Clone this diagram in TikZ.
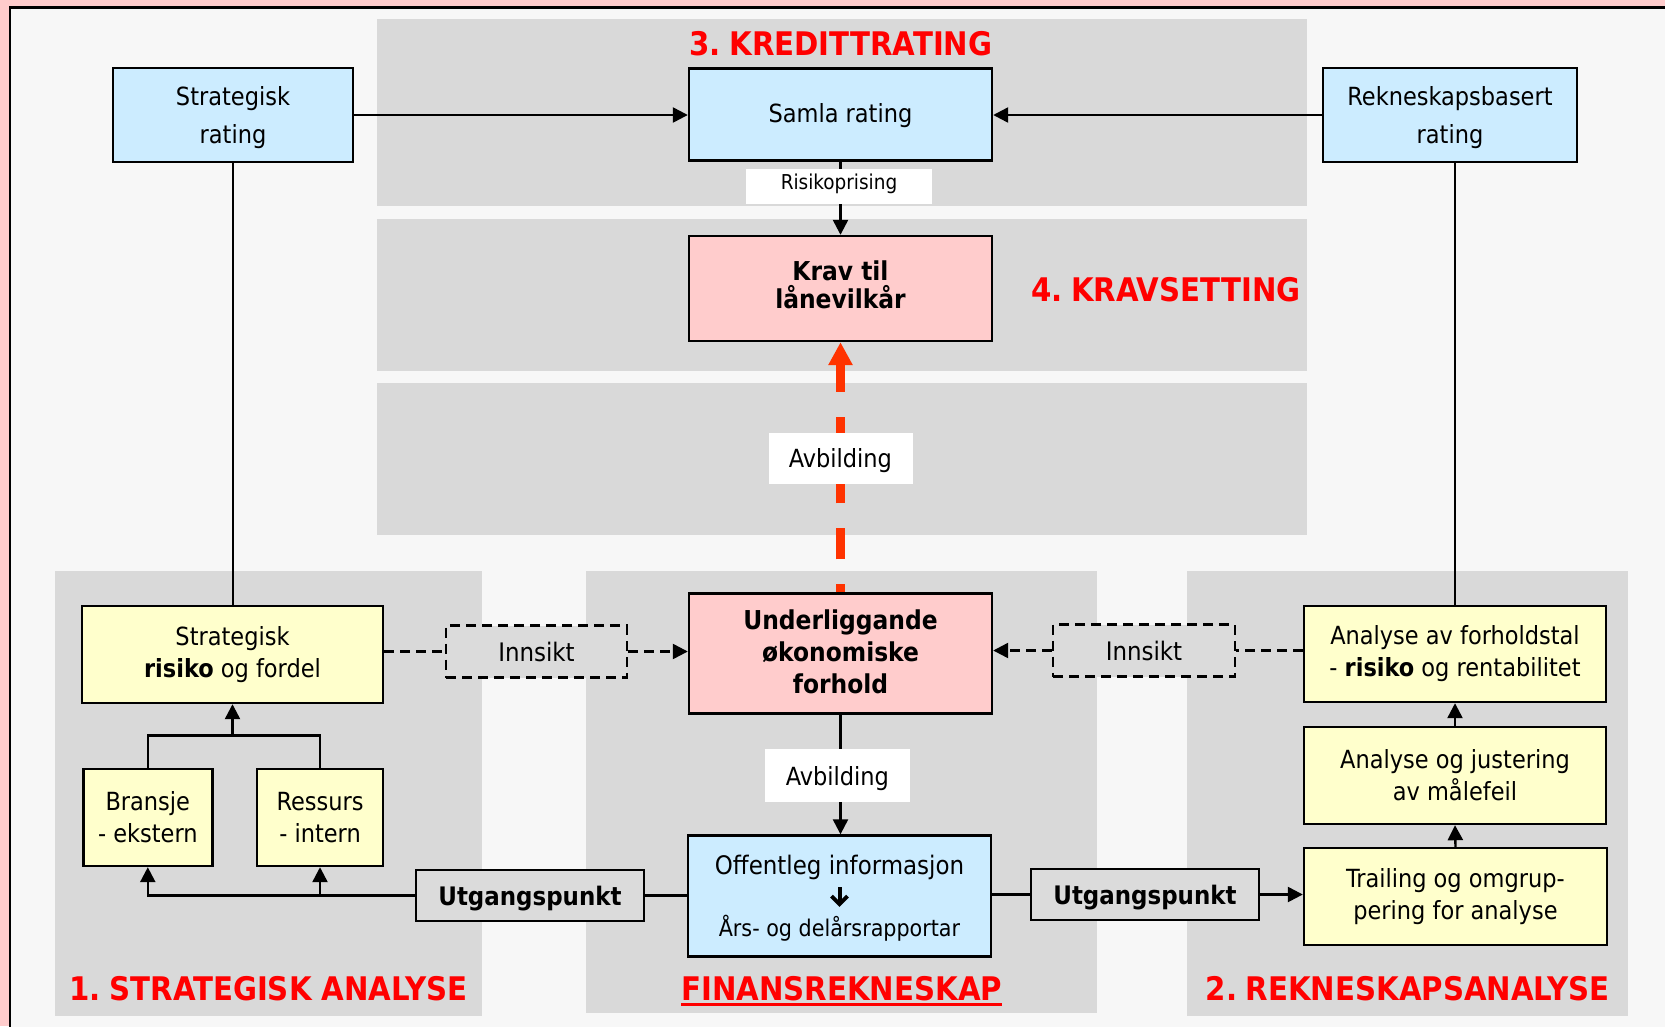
\documentclass[tikz,border=0pt]{standalone}
\usepackage{fontspec}
\setmainfont{DejaVu Sans Condensed}
\usetikzlibrary{arrows.meta,calc}
\definecolor{bgpink}{HTML}{FFCCCC}
\definecolor{innerbg}{HTML}{F7F7F7}
\definecolor{panelc}{HTML}{D9D9D9}
\definecolor{cblue}{HTML}{CCECFF}
\definecolor{cyellow}{HTML}{FFFFCC}
\definecolor{cpink}{HTML}{FFCCCC}
\definecolor{lblgray}{HTML}{DBDBDB}
\definecolor{corange}{HTML}{FF3300}
\newcommand{\downarrowglyph}{\tikz[x=1pt,y=1pt,baseline=0pt]{\draw[line width=4pt,line cap=butt] (0,18) -- (0,3); \draw[line width=4pt,line join=miter] (-8,9) -- (0,1) -- (8,9);}}
\begin{document}
\begin{tikzpicture}[x=1pt,y=-1pt,
  box/.style={draw=black,line width=2.4pt,inner sep=0pt,align=center,font=\fontsize{25}{32}\selectfont},
  bluebox/.style={box,fill=cblue},
  yelbox/.style={box,fill=cyellow},
  pinkbox/.style={box,fill=cpink,font=\bfseries\fontsize{26}{32}\selectfont},
  lab/.style={fill=white,inner sep=0pt,font=\fontsize{25}{30}\selectfont},
  dbox/.style={draw=black,line width=2.4pt,dash pattern=on 10pt off 6pt,fill=lblgray,inner sep=0pt,font=\fontsize{25.5}{30}\selectfont},
  ubox/.style={draw=black,line width=2.4pt,fill=lblgray,inner sep=0pt,font=\bfseries\fontsize{25.5}{30}\selectfont},
  ttl/.style={text=red,inner sep=0pt,font=\bfseries\fontsize{32.5}{36}\selectfont},
  conn/.style={draw=black,line width=2.4pt},
  arr/.style={conn,-{Triangle[length=15pt,width=15pt]}},
  dconn/.style={conn,dash pattern=on 10pt off 6pt},
  darr/.style={dconn,-{Triangle[length=15pt,width=15pt]}}
]
\useasboundingbox (0,0) rectangle (1665,1026);
\clip (0,0) rectangle (1665,1026);
\fill[bgpink] (0,0) rectangle (1665,1026);
\draw[fill=innerbg,line width=2.6pt] (10,7.5) rectangle (1720,1080);
% panels
\fill[panelc] (377,19) rectangle (1307,205.6);
\fill[panelc] (377,219) rectangle (1307,370.6);
\fill[panelc] (377,383) rectangle (1307,535);
\fill[panelc] (55,571) rectangle (481.7,1015.7);
\fill[panelc] (586,571) rectangle (1096.7,1013);
\fill[panelc] (1187,571) rectangle (1627.7,1015.7);
% titles
\node[ttl] (t3) at (841,44) {3.\hspace{0.26em}KREDITTRATING};
\node[ttl] (t4) at (1166,289.5) {4.\hspace{0.26em}KRAVSETTING};
\node[ttl] (t1) at (268.5,989) {1.\hspace{0.26em}STRATEGISK ANALYSE};
\node[ttl] (tf) at (841.7,989) {FINANSREKNESKAP};
\node[ttl] (t2) at (1407.7,989) {2.\hspace{0.26em}REKNESKAPSANALYSE};
\draw[red,line width=3pt] ([yshift=-3.5pt]tf.base west) -- ([yshift=-3.5pt]tf.base east);
% top row
\node[bluebox,minimum width=240pt,minimum height=94pt,font=\fontsize{25}{38}\selectfont] (srat) at (233,115) {\rule{0pt}{25pt}Strategisk\\rating};
\node[bluebox,minimum width=303pt,minimum height=92pt] (samla) at (840.5,114.5) {\rule{0pt}{21pt}Samla rating};
\node[bluebox,minimum width=254pt,minimum height=94pt,font=\fontsize{25}{38}\selectfont] (rrat) at (1450,115) {\rule{0pt}{25pt}Rekneskapsbasert\\rating};
\node[lab,minimum width=186pt,minimum height=35pt,font=\fontsize{20.5}{24}\selectfont] (risk) at (839,186.5) {Risikoprising\rule[-9pt]{0pt}{0pt}};
\node[pinkbox,minimum width=303pt,minimum height=105pt,font=\bfseries\fontsize{26}{28}\selectfont] (krav) at (840.5,288.5) {Krav til\\lånevilkår\rule[-8pt]{0pt}{0pt}};
\node[lab,minimum width=144pt,minimum height=51pt] (avb1) at (840.5,458.5) {\rule{0pt}{23pt}Avbilding};
% middle row
\node[pinkbox,minimum width=303pt,minimum height=120pt] (under) at (840.5,653.5) {Underliggande\\økonomiske\\forhold\rule[-4pt]{0pt}{0pt}};
\node[lab,minimum width=145pt,minimum height=53pt] (avb2) at (837.5,775.5) {\rule{0pt}{25pt}Avbilding};
\node[bluebox,minimum width=303pt,minimum height=121pt,font=\fontsize{25.5}{31}\selectfont] (off) at (839.5,896) {\rule{0pt}{23pt}Offentleg informasjon\\\downarrowglyph\\{\fontsize{23}{31}\selectfont Års- og delårsrapportar}};
% left
\node[yelbox,minimum width=301pt,minimum height=97pt] (srisk) at (232.5,654.5) {Strategisk\\\textbf{risiko} og fordel};
\node[yelbox,minimum width=129pt,minimum height=97pt] (bransje) at (147.8,817.5) {Bransje\\- ekstern};
\node[yelbox,minimum width=126pt,minimum height=97pt] (ressurs) at (320,817.5) {Ressurs\\- intern};
\node[dbox,minimum width=181pt,minimum height=52pt] (inn1) at (536.5,651.5) {\rule{0pt}{21pt}Innsikt};
\node[ubox,minimum width=228pt,minimum height=51pt] (utg1) at (530,895.5) {\rule{0pt}{25pt}Utgangspunkt};
% right
\node[yelbox,minimum width=302pt,minimum height=96pt] (aforh) at (1455,654) {Analyse av forholdstal\\- \textbf{risiko} og rentabilitet};
\node[yelbox,minimum width=302pt,minimum height=97pt] (ajust) at (1455,775.5) {Analyse og justering\\av målefeil};
\node[yelbox,minimum width=303pt,minimum height=97pt] (trail) at (1455.5,896.5) {Trailing og omgrup-\\pering for analyse};
\node[dbox,minimum width=182pt,minimum height=52pt] (inn2) at (1144,650.5) {\rule{0pt}{21pt}Innsikt};
\node[ubox,minimum width=228pt,minimum height=51pt] (utg2) at (1145,894.5) {\rule{0pt}{25pt}Utgangspunkt};
% connectors top
\draw[arr] (srat.east) -- (srat.east -| samla.west);
\draw[arr] (rrat.west) -- (rrat.west -| samla.east);
\draw[conn] (samla.south) -- (samla.south |- risk.north);
\draw[arr] (samla.south |- risk.south) -- (samla.south |- krav.north);
\draw[conn] (srat.south) -- (srat.south |- srisk.north);
\draw[conn] (aforh.north) -- (aforh.north |- rrat.south);
% orange mapping arrow
\draw[corange,line width=8.3pt,dash pattern=on 31pt off 25pt,dash phase=23pt] (under.north) -- (avb1.south);
\draw[corange,line width=8.3pt,dash pattern=on 31pt off 25pt,dash phase=15pt,-{Triangle[length=23pt,width=23pt]}] (avb1.north) -- (krav.south);
% lower centre
\draw[conn] (under.south) -- (under.south |- avb2.north);
\draw[arr] (under.south |- avb2.south) -- (under.south |- off.north);
% tree left
\coordinate (j) at ([yshift=32.5pt]bransje.north);
\draw[conn] (bransje.north) -- (j) -| (ressurs.north);
\draw[arr] (srisk.south |- j) -- (srisk.south);
\draw[arr] (utg1.west) -| (bransje.south);
\draw[arr] (utg1.west -| ressurs.south) -- (ressurs.south);
\draw[conn] (utg1.east) -- (utg1.east -| off.west);
% right chain
\draw[conn] (utg2.west -| off.east) -- (utg2.west);
\draw[arr] (utg2.east) -- (utg2.east -| trail.west);
\draw[arr] (trail.north) -- (ajust.south);
\draw[arr] (ajust.north) -- (aforh.south);
% insight dashed
\draw[dconn] (srisk.east |- inn1.west) -- (inn1.west);
\draw[darr] (inn1.east) -- (inn1.east -| under.west);
\draw[dconn] (aforh.west |- inn2.east) -- (inn2.east);
\draw[darr] (inn2.west) -- (inn2.west -| under.east);
\end{tikzpicture}
\end{document}
